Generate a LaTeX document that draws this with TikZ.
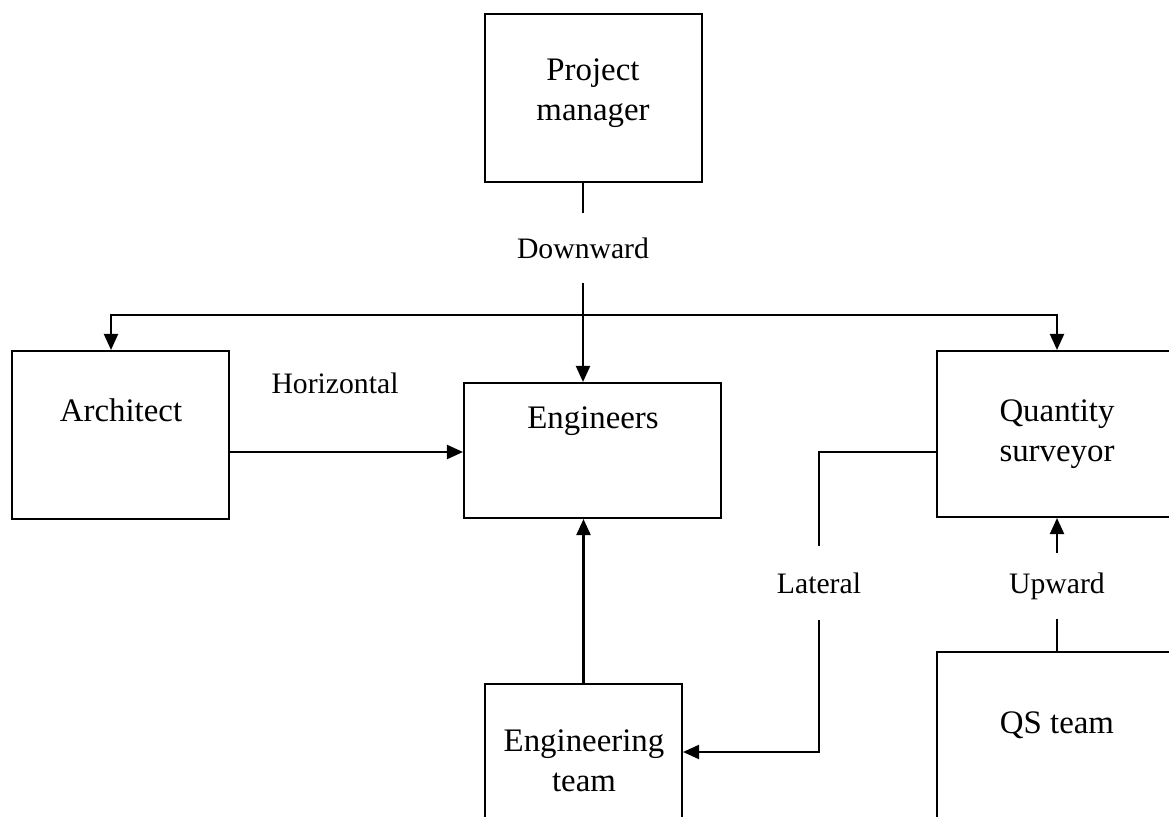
\documentclass[tikz,border=0pt]{standalone}
\usepackage{fontspec}
\setmainfont{Liberation Serif}
\usetikzlibrary{arrows.meta}

\tikzset{
	box/.style={draw, line width=1.2pt, rectangle, inner sep=0pt, align=center, font=\fontsize{18.7}{23}\selectfont},
	boxtext/.style={inner sep=0pt, align=center, font=\fontsize{18.7}{23}\selectfont},
	flow/.style={inner sep=0pt, font=\fontsize{16.9}{20}\selectfont},
	link/.style={line width=1.2pt},
}

\begin{document}
\begin{tikzpicture}[x=0.02cm, y=-0.02cm, >={Triangle[length=0.32cm,width=0.28cm]}]
	\path[use as bounding box, clip] (0,0) rectangle (1169,817);
	% Các khung chức danh
	\node[box, minimum width=4.34cm, minimum height=3.36cm] (pm) at (593.5,98) {};
	\node[box, minimum width=4.34cm, minimum height=3.36cm] (arch) at (120.5,435) {};
	\node[box, minimum width=5.14cm, minimum height=2.70cm] (eng) at (592.5,450.5) {};
	\node[box, minimum width=4.80cm, minimum height=3.32cm] (qs) at (1057,434) {Quantity\\surveyor};
	\node[box, minimum width=3.94cm, minimum height=2.72cm] (engteam) at (583.5,752) {};
	\node[box, minimum width=4.80cm, minimum height=4.20cm] (qsteam) at (1057,757) {};
	\node[boxtext] (pmtxt) at (593,93) {Project\\manager};
	\node[boxtext] (archtxt) at (121,410) {Architect};
	\node[boxtext] (engtxt) at (593,421) {Engineers};
	\node[boxtext] (engteamtxt) at (584,761) {Engineering\\team};
	\node[boxtext] (qsteamtxt) at (1057,725) {QS team};
	% Nhãn các hướng giao tiếp
	\node[flow, minimum height=1.4cm] (down) at (583,248) {Downward};
	\node[flow] (horiz) at (335,383) {Horizontal};
	\node[flow, minimum height=1.46cm] (lat) at (819,583) {Lateral};
	\node[flow, minimum height=1.3cm] (up) at (1057,586) {Upward};
	% Các đường nối
	\coordinate (split) at (583,315);
	\draw[link] (pm.south -| down.north) -- (down.north);
	\draw[link, ->] (down.south) -- (down.south |- eng.north);
	\draw[link, ->] (split) -| ([xshift=-0.19cm]arch.north);
	\draw[link, ->] (split) -| (qs.north);
	\draw[link, ->] ([yshift=-0.03cm]arch.east |- eng.west) -- ([yshift=-0.03cm]eng.west);
	\draw[link] ([yshift=-0.36cm]qs.west) -| (lat.north);
	\draw[link, ->] (lat.south) |- (engteam.east);
	\draw[link, ->] (engteam.north) -- (engteam.north |- eng.south);
	\draw[link, ->] (up.north) -- (qs.south);
	\draw[link] (qsteam.north) -- (up.south);
\end{tikzpicture}
\end{document}
